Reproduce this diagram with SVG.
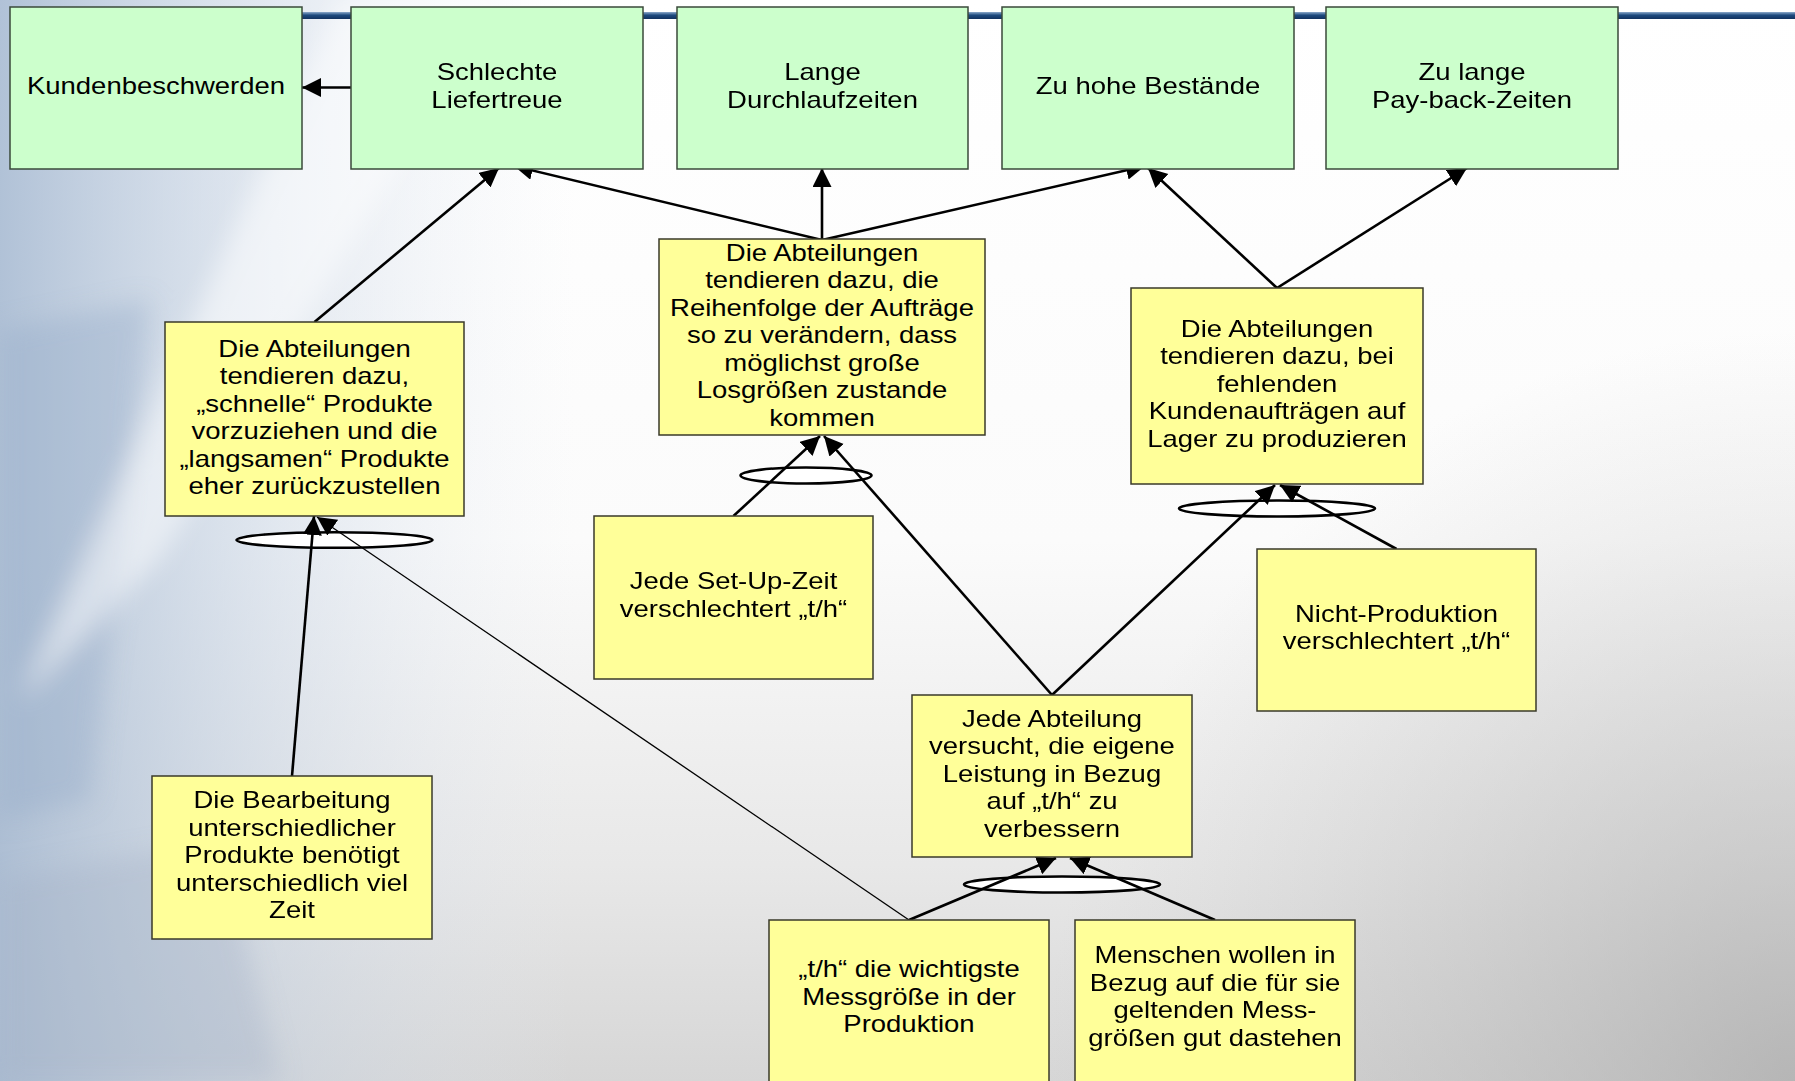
<svg xmlns="http://www.w3.org/2000/svg" width="1795" height="1081" viewBox="0 0 1795 1081">
<defs>
<linearGradient id="bgV" x1="0" y1="0" x2="0" y2="1">
<stop offset="0" stop-color="#ffffff"/>
<stop offset="0.5" stop-color="#fbfbfb"/>
<stop offset="0.8" stop-color="#e8e8e8"/>
<stop offset="1" stop-color="#d6d6d6"/>
</linearGradient>
<radialGradient id="bgBR" cx="1795" cy="1081" r="750" gradientUnits="userSpaceOnUse">
<stop offset="0" stop-color="#a8a8a8" stop-opacity="0.7"/>
<stop offset="1" stop-color="#bdbdbd" stop-opacity="0"/>
</radialGradient>
<linearGradient id="bgL" x1="0" y1="0" x2="1" y2="0">
<stop offset="0" stop-color="#a3b7d0" stop-opacity="0.85"/>
<stop offset="0.12" stop-color="#bccbde" stop-opacity="0.55"/>
<stop offset="0.32" stop-color="#e3e9f2" stop-opacity="0"/>
</linearGradient>
<linearGradient id="topLine" x1="0" y1="0" x2="0" y2="1">
<stop offset="0" stop-color="#8eabcc"/>
<stop offset="0.45" stop-color="#1d4a7e"/>
<stop offset="1" stop-color="#12325f"/>
</linearGradient>
<filter id="soft" x="-20%" y="-20%" width="140%" height="140%">
<feGaussianBlur stdDeviation="12"/>
</filter>
<marker id="ah" markerUnits="userSpaceOnUse" markerWidth="20" markerHeight="20" refX="19" refY="9.5" orient="auto">
<path d="M0,0 L19,9.5 L0,19 Z" fill="#000"/>
</marker>
</defs>
<style>
.green{fill:#CCFFCC;stroke:#3a4a3a;stroke-width:1.5}
.yellow{fill:#FFFF99;stroke:#3a3a2a;stroke-width:1.5}
.t{font-family:"Liberation Sans",Arial,sans-serif;font-size:24px;fill:#000;text-anchor:middle}
.c{stroke:#000;stroke-width:2.6;fill:none;marker-end:url(#ah)}
.thin{stroke:#000;stroke-width:1.3;fill:none;marker-end:url(#ah)}
.and{fill:#fff;stroke:#000;stroke-width:2.6}
</style>
<g id="background">
<rect x="0" y="0" width="1795" height="1081" fill="url(#bgV)"/>
<rect x="0" y="0" width="1795" height="1081" fill="url(#bgBR)"/>
<rect x="0" y="0" width="1795" height="1081" fill="url(#bgL)"/>
<g filter="url(#soft)">
<polygon points="0,330 150,300 90,800 0,820" fill="#97adc8" opacity="0.4"/>
<polygon points="0,880 220,840 280,1081 0,1081" fill="#a3b3c7" opacity="0.35"/>
<polygon points="340,0 500,0 160,560 20,700" fill="#ffffff" opacity="0.5"/>
</g>
<rect x="250" y="12" width="1545" height="7" fill="url(#topLine)"/>
</g>
<g id="connectors">
<ellipse class="and" cx="334.5" cy="540" rx="98" ry="7.8"/>
<ellipse class="and" cx="806" cy="475.5" rx="65.5" ry="8"/>
<ellipse class="and" cx="1277" cy="508.5" rx="98" ry="8"/>
<ellipse class="and" cx="1062" cy="884.5" rx="98" ry="8"/>
<line class="c" x1="351" y1="87.5" x2="302" y2="87.5"/>
<line class="c" x1="314.5" y1="322" x2="499" y2="168"/>
<line class="c" x1="822" y1="240" x2="514" y2="166"/>
<line class="c" x1="822" y1="240" x2="822" y2="168"/>
<line class="c" x1="822" y1="240" x2="1145" y2="166"/>
<line class="c" x1="1277" y1="288" x2="1148" y2="168"/>
<line class="c" x1="1277" y1="288" x2="1467" y2="168"/>
<line class="c" x1="292" y1="776" x2="314" y2="516"/>
<line class="thin" x1="909" y1="920" x2="317" y2="517"/>
<line class="c" x1="733.5" y1="516" x2="820" y2="436"/>
<line class="c" x1="1052" y1="695" x2="824" y2="436"/>
<line class="c" x1="1052" y1="695" x2="1275" y2="485"/>
<line class="c" x1="1396.5" y1="549" x2="1280" y2="485"/>
<line class="c" x1="909" y1="920" x2="1056" y2="858"/>
<line class="c" x1="1215" y1="920" x2="1070" y2="858"/>
</g>
<g id="n-kundenbeschwerden">
<rect class="green" x="10" y="7" width="292" height="162"/>
<text class="t" transform="translate(156 0) scale(1.145 1)"><tspan x="0" y="93.6">Kundenbeschwerden</tspan></text>
</g>
<g id="n-liefertreue">
<rect class="green" x="351" y="7" width="292" height="162"/>
<text class="t" transform="translate(497 0) scale(1.145 1)"><tspan x="0" y="79.6">Schlechte</tspan><tspan x="0" y="107.6">Liefertreue</tspan></text>
</g>
<g id="n-durchlaufzeiten">
<rect class="green" x="677" y="7" width="291" height="162"/>
<text class="t" transform="translate(822.5 0) scale(1.145 1)"><tspan x="0" y="79.6">Lange</tspan><tspan x="0" y="107.6">Durchlaufzeiten</tspan></text>
</g>
<g id="n-bestaende">
<rect class="green" x="1002" y="7" width="292" height="162"/>
<text class="t" transform="translate(1148 0) scale(1.145 1)"><tspan x="0" y="93.6">Zu hohe Bestände</tspan></text>
</g>
<g id="n-payback">
<rect class="green" x="1326" y="7" width="292" height="162"/>
<text class="t" transform="translate(1472 0) scale(1.145 1)"><tspan x="0" y="79.6">Zu lange</tspan><tspan x="0" y="107.6">Pay-back-Zeiten</tspan></text>
</g>
<g id="n-schnelle">
<rect class="yellow" x="165" y="322" width="299" height="194"/>
<text class="t" transform="translate(314.5 0) scale(1.145 1)"><tspan x="0" y="356.6">Die Abteilungen</tspan><tspan x="0" y="384.1">tendieren dazu,</tspan><tspan x="0" y="411.6">„schnelle“ Produkte</tspan><tspan x="0" y="439.1">vorzuziehen und die</tspan><tspan x="0" y="466.6">„langsamen“ Produkte</tspan><tspan x="0" y="494.1">eher zurückzustellen</tspan></text>
</g>
<g id="n-reihenfolge">
<rect class="yellow" x="659" y="239" width="326" height="196"/>
<text class="t" transform="translate(822 0) scale(1.145 1)"><tspan x="0" y="260.6">Die Abteilungen</tspan><tspan x="0" y="288.1">tendieren dazu, die</tspan><tspan x="0" y="315.6">Reihenfolge der Aufträge</tspan><tspan x="0" y="343.1">so zu verändern, dass</tspan><tspan x="0" y="370.6">möglichst große</tspan><tspan x="0" y="398.1">Losgrößen zustande</tspan><tspan x="0" y="425.6">kommen</tspan></text>
</g>
<g id="n-lager">
<rect class="yellow" x="1131" y="288" width="292" height="196"/>
<text class="t" transform="translate(1277 0) scale(1.145 1)"><tspan x="0" y="336.6">Die Abteilungen</tspan><tspan x="0" y="364.1">tendieren dazu, bei</tspan><tspan x="0" y="391.6">fehlenden</tspan><tspan x="0" y="419.1">Kundenaufträgen auf</tspan><tspan x="0" y="446.6">Lager zu produzieren</tspan></text>
</g>
<g id="n-setup">
<rect class="yellow" x="594" y="516" width="279" height="163"/>
<text class="t" transform="translate(733.5 0) scale(1.145 1)"><tspan x="0" y="589.4">Jede Set-Up-Zeit</tspan><tspan x="0" y="616.9">verschlechtert „t/h“</tspan></text>
</g>
<g id="n-nichtproduktion">
<rect class="yellow" x="1257" y="549" width="279" height="162"/>
<text class="t" transform="translate(1396.5 0) scale(1.145 1)"><tspan x="0" y="621.9">Nicht-Produktion</tspan><tspan x="0" y="649.4">verschlechtert „t/h“</tspan></text>
</g>
<g id="n-abteilung">
<rect class="yellow" x="912" y="695" width="280" height="162"/>
<text class="t" transform="translate(1052 0) scale(1.145 1)"><tspan x="0" y="726.6">Jede Abteilung</tspan><tspan x="0" y="754.1">versucht, die eigene</tspan><tspan x="0" y="781.6">Leistung in Bezug</tspan><tspan x="0" y="809.1">auf „t/h“ zu</tspan><tspan x="0" y="836.6">verbessern</tspan></text>
</g>
<g id="n-bearbeitung">
<rect class="yellow" x="152" y="776" width="280" height="163"/>
<text class="t" transform="translate(292 0) scale(1.145 1)"><tspan x="0" y="808.1">Die Bearbeitung</tspan><tspan x="0" y="835.6">unterschiedlicher</tspan><tspan x="0" y="863.1">Produkte benötigt</tspan><tspan x="0" y="890.6">unterschiedlich viel</tspan><tspan x="0" y="918.1">Zeit</tspan></text>
</g>
<g id="n-messgroesse">
<rect class="yellow" x="769" y="920" width="280" height="170"/>
<text class="t" transform="translate(909 0) scale(1.145 1)"><tspan x="0" y="977.5">„t/h“ die wichtigste</tspan><tspan x="0" y="1005">Messgröße in der</tspan><tspan x="0" y="1032.5">Produktion</tspan></text>
</g>
<g id="n-menschen">
<rect class="yellow" x="1075" y="920" width="280" height="170"/>
<text class="t" transform="translate(1215 0) scale(1.145 1)"><tspan x="0" y="963.5">Menschen wollen in</tspan><tspan x="0" y="991">Bezug auf die für sie</tspan><tspan x="0" y="1018.5">geltenden Mess-</tspan><tspan x="0" y="1046">größen gut dastehen</tspan></text>
</g>
</svg>
